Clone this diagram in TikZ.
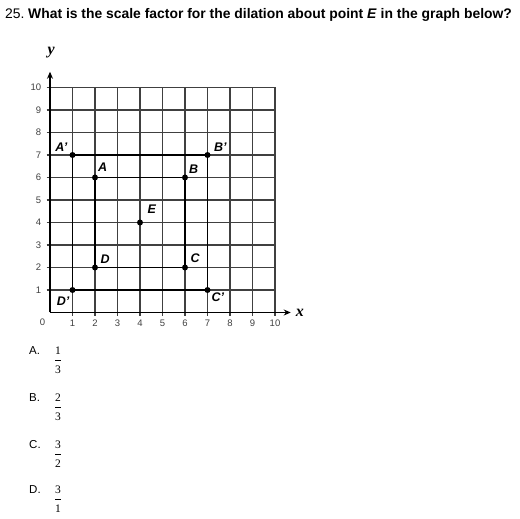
\documentclass[tikz,border=0pt]{standalone}
\usepackage{fontspec}
\setmainfont{Liberation Sans}
\newfontfamily\seriffont{Liberation Serif}
\usepackage{tikz}
\usetikzlibrary{calc}
\usetikzlibrary{arrows.meta}
\definecolor{gridgray}{HTML}{404040}
\newcommand{\vfrac}[2]{{\seriffont\renewcommand{\arraystretch}{1.4}%
	\begin{tabular}[t]{@{}c@{}}#1\\\hline #2\end{tabular}}}

\begin{document}
\begin{tikzpicture}[
	x=1pt,
	y=1pt,
	gridline/.style={
		draw=gridgray,
		line width=1.1pt,
	},
	square/.style={
		draw=black,
		line width=1.8pt,
	},
	axisline/.style={
		draw=black,
		line width=1.3pt,
		-{Stealth[length=7pt,width=6pt]},
	},
	axislabel/.style={
		font=\fontsize{16}{16}\selectfont\seriffont\bfseries\itshape,
		inner sep=0pt,
	},
	ptlabel/.style={
		font=\fontsize{12.5}{12.5}\selectfont\bfseries\itshape,
		inner sep=0pt,
	},
	ticklabel/.style={
		font=\fontsize{9.5}{9.5}\selectfont,
		text=gridgray,
		inner sep=0pt,
	},
	choice/.style={
		font=\fontsize{11.5}{13}\selectfont,
		anchor=base west,
		inner sep=0pt,
	},
	frac/.style={
		font=\fontsize{11.5}{13}\selectfont,
		anchor=base west,
		inner sep=0pt,
	},
]
\useasboundingbox (0,0) rectangle (520,519);

% question
\node[anchor=base west,inner sep=0pt,font=\fontsize{13.9}{13.9}\selectfont] (num) at (5,500.3) {25.};
\node[anchor=base west,inner sep=0pt,font=\fontsize{13.9}{13.9}\selectfont\bfseries] (title) at (28,500.3)
	{What is the scale factor for the dilation about point \textit{E} in the graph below?};

% coordinate plane
\begin{scope}[shift={(50,206.5)},x=22.5pt,y=22.5pt]
	\foreach \i in {1,...,10}{
		\draw[gridline] (\i,-0.15) -- (\i,10);
		\draw[gridline] (-0.15,\i) -- (10,\i);
	}
	\draw[axisline] (0,0) -- (10.7,0);
	\draw[axisline] (0,0) -- (0,10.7);
	\node[axislabel] (xlabel) at (11.1,0) {x};
	\node[axislabel] (ylabel) at (0.05,11.55) {y};
	\node[ticklabel] (zero) at (-0.33,-0.45) {0};
	\foreach \i in {1,...,10}{
		\node[ticklabel] (xt\i) at (\i,-0.47) {\i};
		\node[ticklabel,anchor=east] (yt\i) at (-0.38,\i) {\i};
	}

	% dilation center and squares
	\coordinate (E) at (4,4);
	\coordinate (A) at (2,6);
	\coordinate (B) at (6,6);
	\coordinate (C) at (6,2);
	\coordinate (D) at (2,2);
	\coordinate (A') at (1,7);
	\coordinate (B') at (7,7);
	\coordinate (C') at (7,1);
	\coordinate (D') at (1,1);
	\draw[square] (A) -- (B) -- (C) -- (D) -- cycle;
	\draw[square] (A') -- (B') -- (C') -- (D') -- cycle;
	\foreach \p in {A,B,C,D,A',B',C',D',E}{
		\fill (\p) circle (3pt);
	}

	\node[ptlabel,anchor=south west,xshift=3pt,yshift=6pt] (lblA) at (A) {A};
	\node[ptlabel,anchor=south west,xshift=4pt,yshift=4pt] (lblB) at (B) {B};
	\node[ptlabel,anchor=south west,xshift=5.5pt,yshift=5pt] (lblC) at (C) {C};
	\node[ptlabel,anchor=south west,xshift=5.5pt,yshift=4pt] (lblD) at (D) {D};
	\node[ptlabel,anchor=south west,xshift=7.5pt,yshift=8.5pt] (lblE) at (E) {E};
	\node[ptlabel,anchor=south east,xshift=-5pt,yshift=3pt] (lblA') at (A') {A'};
	\node[ptlabel,anchor=south west,xshift=6.5pt,yshift=3pt] (lblB') at (B') {B'};
	\node[ptlabel,anchor=north west,xshift=4pt,yshift=-3pt] (lblC') at (C') {C'};
	\node[ptlabel,anchor=north east,xshift=-3pt,yshift=-7pt] (lblD') at (D') {D'};
\end{scope}

% answer choices
\node[choice] (chA) at (29,164) {A.};
\node[frac] (fA) at (55,164) {\vfrac{1}{3}};
\node[choice] (chB) at (29,117) {B.};
\node[frac] (fB) at (55,117) {\vfrac{2}{3}};
\node[choice] (chC) at (29,70) {C.};
\node[frac] (fC) at (55,70) {\vfrac{3}{2}};
\node[choice] (chD) at (29,25) {D.};
\node[frac] (fD) at (55,25) {\vfrac{3}{1}};
\end{tikzpicture}
\end{document}
